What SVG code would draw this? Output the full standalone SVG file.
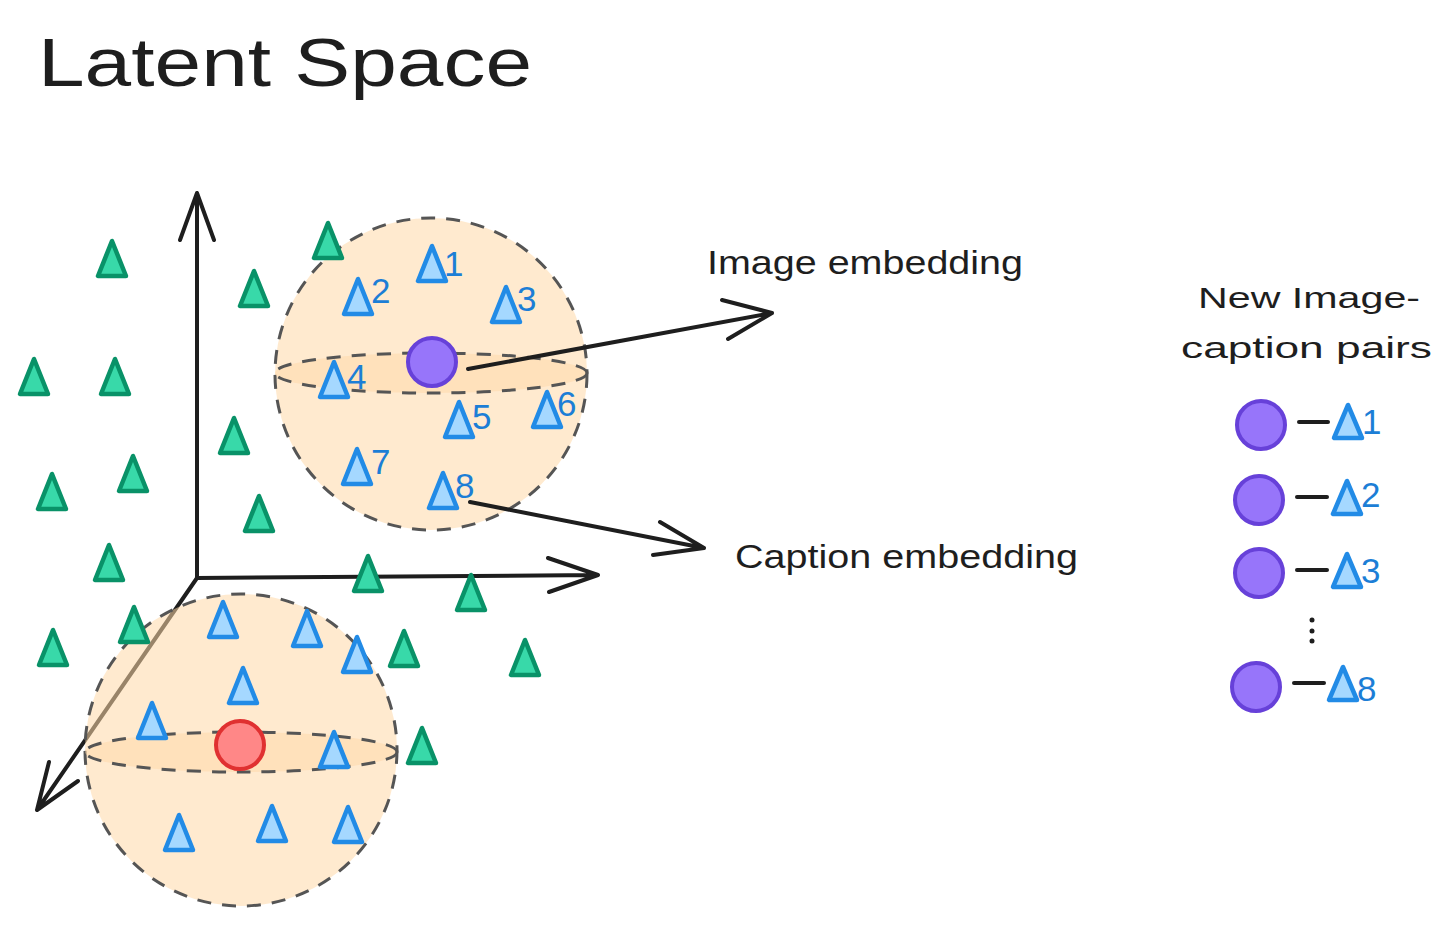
<svg xmlns="http://www.w3.org/2000/svg" xmlns:xlink="http://www.w3.org/1999/xlink" width="1454" height="926" viewBox="0 0 1454 926">
<style>
  .txt{font-family:"Liberation Sans","DejaVu Sans",sans-serif;fill:#1e1e1e}
  .num{font-family:"Liberation Sans","DejaVu Sans",sans-serif;fill:#1c7ed6;font-size:35px}
  .g{fill:#38d9a9;stroke:#099268;stroke-width:4.5;stroke-linejoin:round}
  .b{fill:#a5d8ff;stroke:#228be6;stroke-width:4.5;stroke-linejoin:round}
  .axis{fill:none;stroke:#1e1e1e;stroke-width:4;stroke-linecap:round;stroke-linejoin:round}
  .sphere{fill:#ffd8a8;fill-opacity:0.55;stroke:#555;stroke-width:3;stroke-dasharray:14 11}
  .eq{fill:#ffd8a8;fill-opacity:0.5;stroke:#555;stroke-width:3;stroke-dasharray:14 11}
  .purple{fill:#9775fa;stroke:#6741d9;stroke-width:4}
  .red{fill:#ff8787;stroke:#e03131;stroke-width:4}
  .pair{stroke:#1e1e1e;stroke-width:4;stroke-linecap:round}
</style>
<defs>
  <path id="tri" d="M0,0 L-14,35 L14,35 Z"/>
  <path id="tris" d="M0,0 L-14,33 L14,33 Z"/>
</defs>

<text class="txt" x="38" y="86" font-size="68" textLength="494" lengthAdjust="spacingAndGlyphs">Latent Space</text>

<g id="connectors">
  <g id="axes">
    <path class="axis" d="M197,578 L197,193 M180,240 L197,193 L214,240"/>
    <path class="axis" d="M197,578 L598,575 M548,558 L598,575 L549,592"/>
    <path class="axis" d="M197,578 L37,810 M49,762 L37,810 L78,781"/>
  </g>
</g>

<g id="sphere-upper">
  <circle class="sphere" cx="431" cy="374" r="156"/>
  <ellipse class="eq" cx="431" cy="373" rx="156" ry="20"/>
</g>
<g id="sphere-lower">
  <circle class="sphere" cx="241" cy="750" r="156"/>
  <ellipse class="eq" cx="241" cy="752" rx="156" ry="20"/>
</g>

<g id="green-points">
  <use href="#tri" class="g" x="112" y="241"/>
  <use href="#tri" class="g" x="328" y="223"/>
  <use href="#tri" class="g" x="254" y="271"/>
  <use href="#tri" class="g" x="34" y="359"/>
  <use href="#tri" class="g" x="115" y="359"/>
  <use href="#tri" class="g" x="234" y="418"/>
  <use href="#tri" class="g" x="52" y="474"/>
  <use href="#tri" class="g" x="133" y="456"/>
  <use href="#tri" class="g" x="259" y="496"/>
  <use href="#tri" class="g" x="109" y="545"/>
  <use href="#tri" class="g" x="368" y="556"/>
  <use href="#tri" class="g" x="471" y="575"/>
  <use href="#tri" class="g" x="53" y="630"/>
  <use href="#tri" class="g" x="134" y="607"/>
  <use href="#tri" class="g" x="404" y="631"/>
  <use href="#tri" class="g" x="525" y="640"/>
  <use href="#tri" class="g" x="422" y="728"/>
</g>

<g id="caption-points-upper">
  <use href="#tri" class="b" x="432" y="246"/><text class="num" x="444" y="276">1</text>
  <use href="#tri" class="b" x="358" y="279"/><text class="num" x="371" y="303">2</text>
  <use href="#tri" class="b" x="506" y="287"/><text class="num" x="517" y="311">3</text>
  <use href="#tri" class="b" x="334" y="362"/><text class="num" x="347" y="389">4</text>
  <use href="#tri" class="b" x="459" y="402"/><text class="num" x="472" y="429">5</text>
  <use href="#tri" class="b" x="547" y="392"/><text class="num" x="557" y="416">6</text>
  <use href="#tri" class="b" x="357" y="449"/><text class="num" x="371" y="474">7</text>
  <use href="#tri" class="b" x="443" y="473"/><text class="num" x="455" y="498">8</text>
</g>

<g id="caption-points-lower">
  <use href="#tri" class="b" x="223" y="602"/>
  <use href="#tri" class="b" x="307" y="611"/>
  <use href="#tri" class="b" x="357" y="637"/>
  <use href="#tri" class="b" x="243" y="668"/>
  <use href="#tri" class="b" x="152" y="703"/>
  <use href="#tri" class="b" x="334" y="732"/>
  <use href="#tri" class="b" x="179" y="815"/>
  <use href="#tri" class="b" x="272" y="806"/>
  <use href="#tri" class="b" x="348" y="807"/>
</g>

<g id="image-embedding-point">
  <circle class="purple" cx="432" cy="362" r="24"/>
</g>
<g id="query-point">
  <circle class="red" cx="240" cy="745" r="24"/>
</g>

<g id="connectors-arrows">
  <path class="axis" d="M468,369 L772,313 M722,300 L772,313 L728,339"/>
  <path class="axis" d="M470,502 L704,548 M660,522 L704,548 L653,555"/>
</g>

<g id="label-image-embedding">
  <text class="txt" x="707" y="274" font-size="33" textLength="316" lengthAdjust="spacingAndGlyphs">Image embedding</text>
</g>
<g id="label-caption-embedding">
  <text class="txt" x="735" y="568" font-size="33" textLength="343" lengthAdjust="spacingAndGlyphs">Caption embedding</text>
</g>

<g id="pairs-title">
  <text class="txt" x="1198" y="308" font-size="30" textLength="222" lengthAdjust="spacingAndGlyphs">New Image-</text>
  <text class="txt" x="1181" y="358" font-size="30" textLength="251" lengthAdjust="spacingAndGlyphs">caption pairs</text>
</g>

<g id="pair-1">
  <circle class="purple" cx="1261" cy="425" r="24"/>
  <line class="pair" x1="1299" y1="422" x2="1328" y2="422"/>
  <use href="#tris" class="b" x="1348" y="405"/>
  <text class="num" x="1362" y="434" font-size="32">1</text>
</g>
<g id="pair-2">
  <circle class="purple" cx="1259" cy="500" r="24"/>
  <line class="pair" x1="1297" y1="497" x2="1327" y2="497"/>
  <use href="#tris" class="b" x="1347" y="481"/>
  <text class="num" x="1361" y="507" font-size="32">2</text>
</g>
<g id="pair-3">
  <circle class="purple" cx="1259" cy="573" r="24"/>
  <line class="pair" x1="1297" y1="570" x2="1327" y2="570"/>
  <use href="#tris" class="b" x="1347" y="554"/>
  <text class="num" x="1361" y="583" font-size="32">3</text>
</g>
<g id="ellipsis">
  <circle cx="1312" cy="620" r="2.5" fill="#1e1e1e"/>
  <circle cx="1312" cy="631" r="2.5" fill="#1e1e1e"/>
  <circle cx="1312" cy="641" r="2.5" fill="#1e1e1e"/>
</g>
<g id="pair-8">
  <circle class="purple" cx="1256" cy="687" r="24"/>
  <line class="pair" x1="1294" y1="683" x2="1324" y2="683"/>
  <use href="#tris" class="b" x="1343" y="667"/>
  <text class="num" x="1357" y="701" font-size="32">8</text>
</g>
</svg>
